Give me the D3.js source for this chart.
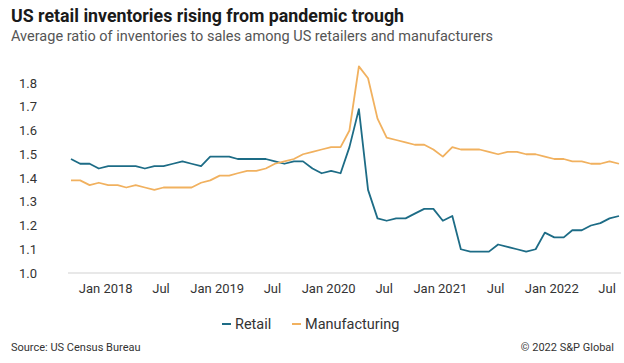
<!DOCTYPE html>
<html>
<head>
<meta charset="utf-8">
<script src="https://cdn.jsdelivr.net/npm/d3@7"></script>
<style>
  body { margin: 0; background: #fff; }
  svg { display: block; font-family: Roboto, "Noto Sans", sans-serif; }
</style>
</head>
<body>
<svg id="chart" width="624" height="363"></svg>
<script>
// monthly, Sep 2017 .. Aug 2022
const startMonth = new Date(2017, 8, 1);
const retail = [
  1.48, 1.46, 1.46, 1.44, 1.45, 1.45, 1.45, 1.45, 1.44, 1.45, 1.45, 1.46,
  1.47, 1.46, 1.45, 1.49, 1.49, 1.49, 1.48, 1.48, 1.48, 1.48, 1.47, 1.46,
  1.47, 1.47, 1.44, 1.42, 1.43, 1.42, 1.53, 1.69, 1.35, 1.23, 1.22, 1.23,
  1.23, 1.25, 1.27, 1.27, 1.22, 1.24, 1.10, 1.09, 1.09, 1.09, 1.12, 1.11,
  1.10, 1.09, 1.10, 1.17, 1.15, 1.15, 1.18, 1.18, 1.20, 1.21, 1.23, 1.24
];
const manufacturing = [
  1.39, 1.39, 1.37, 1.38, 1.37, 1.37, 1.36, 1.37, 1.36, 1.35, 1.36, 1.36,
  1.36, 1.36, 1.38, 1.39, 1.41, 1.41, 1.42, 1.43, 1.43, 1.44, 1.46, 1.47,
  1.48, 1.50, 1.51, 1.52, 1.53, 1.53, 1.60, 1.87, 1.82, 1.65, 1.57, 1.56,
  1.55, 1.54, 1.54, 1.52, 1.49, 1.53, 1.52, 1.52, 1.52, 1.51, 1.50, 1.51,
  1.51, 1.50, 1.50, 1.49, 1.48, 1.48, 1.47, 1.47, 1.46, 1.46, 1.47, 1.46
];
const yTicks = [1.0, 1.1, 1.2, 1.3, 1.4, 1.5, 1.6, 1.7, 1.8];
const xTicks = [
  new Date(2018, 0, 1), new Date(2018, 6, 1), new Date(2019, 0, 1), new Date(2019, 6, 1),
  new Date(2020, 0, 1), new Date(2020, 6, 1), new Date(2021, 0, 1), new Date(2021, 6, 1),
  new Date(2022, 0, 1), new Date(2022, 6, 1)
];
const seriesNames = ["Retail", "Manufacturing"];
const colors = ["#1d6c86", "#f1b15f"];

const months = retail.map((d, i) => d3.timeMonth.offset(startMonth, i));

const svg = d3.select("#chart");

const x = d3.scaleTime()
  .domain([months[0], months[months.length - 1]])
  .range([71, 619]);
const y = d3.scaleLinear()
  .domain([1.0, 1.8])
  .range([273, 83]);

// title
svg.append("text")
  .attr("x", 11).attr("y", 22)
  .attr("font-size", 17.8).attr("font-weight", 700).attr("fill", "#1a1a1a")
  .text("US retail inventories rising from pandemic trough");
svg.append("text")
  .attr("x", 11).attr("y", 41)
  .attr("font-size", 14.5).attr("fill", "#555")
  .text("Average ratio of inventories to sales among US retailers and manufacturers");

// y axis labels
svg.append("g")
  .selectAll("text")
  .data(yTicks)
  .join("text")
  .attr("x", 37).attr("y", d => y(d))
  .attr("dy", "0.35em")
  .attr("text-anchor", "end")
  .attr("font-size", 13).attr("fill", "#333")
  .text(d => d.toFixed(1));

// baseline
svg.append("line")
  .attr("x1", 68).attr("x2", 621)
  .attr("y1", y(1.0)).attr("y2", y(1.0))
  .attr("stroke", "#e0e0e0").attr("stroke-width", 1.5);

// x axis
const xAxis = d3.axisBottom(x)
  .tickValues(xTicks)
  .tickSize(0)
  .tickPadding(0)
  .tickFormat(d => d.getMonth() === 0 ? d3.timeFormat("Jan %Y")(d) : "Jul");
const gx = svg.append("g")
  .attr("transform", `translate(-3, ${y(1.0) + 11})`)
  .call(xAxis);
gx.select(".domain").remove();
gx.selectAll("text")
  .attr("font-size", 13).attr("fill", "#333")
  .attr("font-family", "Roboto, 'Noto Sans', sans-serif");

// lines
const line = d3.line()
  .x((d, i) => x(months[i]))
  .y(d => y(d));

[retail, manufacturing].forEach((s, k) => {
  svg.append("path")
    .datum(s)
    .attr("fill", "none")
    .attr("stroke", colors[k])
    .attr("stroke-width", 1.8)
    .attr("stroke-linejoin", "round")
    .attr("d", line);
});

// legend
const legend = svg.append("g").attr("transform", "translate(0, 324)");
const legendX = [222, 292];
seriesNames.forEach((name, k) => {
  legend.append("line")
    .attr("x1", legendX[k]).attr("x2", legendX[k] + 9)
    .attr("y1", 0).attr("y2", 0)
    .attr("stroke", colors[k]).attr("stroke-width", 2);
  legend.append("text")
    .attr("x", legendX[k] + 13).attr("y", 0).attr("dy", "0.35em")
    .attr("font-size", 14.5).attr("fill", "#333")
    .text(name);
});

// footer
svg.append("text")
  .attr("x", 11).attr("y", 351)
  .attr("font-size", 11).attr("fill", "#333")
  .text("Source: US Census Bureau");
svg.append("text")
  .attr("x", 614).attr("y", 351)
  .attr("text-anchor", "end")
  .attr("font-size", 11).attr("fill", "#333")
  .text("© 2022 S&P Global");
</script>
</body>
</html>
